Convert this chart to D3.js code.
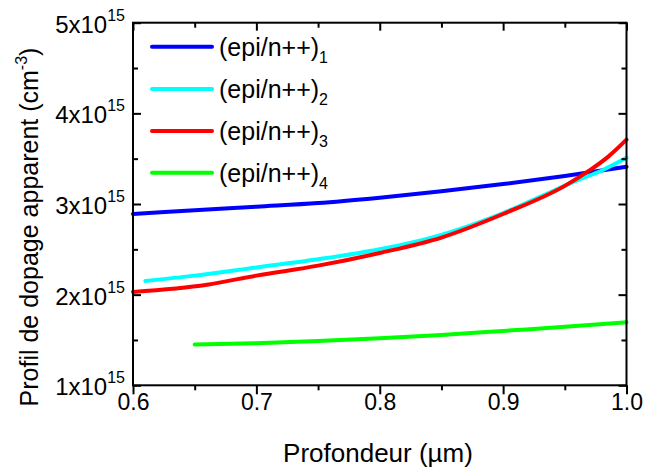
<!DOCTYPE html>
<html><head><meta charset="utf-8">
<script src="https://cdn.jsdelivr.net/npm/d3@7"></script>
<style>
body{margin:0;background:#fff}
svg{display:block}
text{font-family:"Liberation Sans",Arial,Helvetica,sans-serif;fill:#000}
</style>
</head><body>
<svg id="c" width="646" height="472"></svg>
<script>
// ---- data ----
const xTicks = [0.6, 0.7, 0.8, 0.9, 1.0];
const xMinor = [0.65, 0.75, 0.85, 0.95];
const yTicks = [1, 2, 3, 4, 5];          // mantissa of x10^15
const yMinor = [1.5, 2.5, 3.5, 4.5];
const yExp = "15";
const seriesBase = "(epi/n++)";
const seriesSubs = ["1", "2", "3", "4"];
const colors = ["#0000ff", "#00ffff", "#ff0000", "#00ff00"];

const depth1 = [0.6, 0.65, 0.7, 0.75, 0.8, 0.85, 0.9, 0.95, 1.0];
const dop1   = [2.89, 2.93, 2.97, 3.01, 3.07, 3.14, 3.22, 3.31, 3.41];
const depth2 = [0.61, 0.65, 0.7, 0.75, 0.8, 0.85, 0.9, 0.93, 0.96, 0.98, 1.0];
const dop2   = [2.15, 2.21, 2.30, 2.39, 2.50, 2.66, 2.90, 3.08, 3.26, 3.37, 3.51];
const depth3 = [0.6, 0.66, 0.7, 0.75, 0.8, 0.85, 0.9, 0.95, 0.97, 0.985, 1.0];
const dop3   = [2.03, 2.11, 2.21, 2.32, 2.46, 2.63, 2.89, 3.20, 3.37, 3.52, 3.71];
const depth4 = [0.65, 0.7, 0.75, 0.8, 0.85, 0.9, 0.95, 1.0];
const dop4   = [1.45, 1.465, 1.49, 1.52, 1.555, 1.60, 1.645, 1.695];

const series = [
  {x: depth1, y: dop1},
  {x: depth2, y: dop2},
  {x: depth3, y: dop3},
  {x: depth4, y: dop4}
];

// ---- layout ----
const L = 133, R = 626.5, T = 22.7, B = 385.3;
const svg = d3.select("#c");
const x = d3.scaleLinear().domain([0.6, 1.0]).range([L, R]);
const y = d3.scaleLinear().domain([1, 5]).range([B, T]);

// lines
const line = d3.line().x(d => x(d[0])).y(d => y(d[1])).curve(d3.curveMonotoneX);
const gLines = svg.append("g");
series.forEach((s, i) => {
  gLines.append("path")
    .attr("d", line(s.x.map((v, j) => [v, s.y[j]])))
    .attr("fill", "none")
    .attr("stroke", colors[i])
    .attr("stroke-width", 4)
    .attr("stroke-linecap", "round")
    .attr("stroke-linejoin", "round");
});

// axes
function styleAxis(g) {
  g.select(".domain").remove();
  g.selectAll(".tick line").attr("stroke", "#000").attr("stroke-width", 2);
}
// bottom (outward)
svg.append("g").attr("transform", `translate(0,${B})`)
  .call(d3.axisBottom(x).tickValues(xTicks).tickSize(9).tickFormat(d3.format(".1f")))
  .call(styleAxis)
  .call(g => g.selectAll(".tick text")
        .attr("font-size", 23).attr("font-family", null).attr("dy", null)
        .attr("fill", "#000").attr("y", 25));
svg.append("g").attr("transform", `translate(0,${B})`)
  .call(d3.axisBottom(x).tickValues(xMinor).tickSize(5).tickFormat(""))
  .call(styleAxis);
// top (inward)
svg.append("g").attr("transform", `translate(0,${T})`)
  .call(d3.axisTop(x).tickValues(xTicks).tickSize(-8).tickFormat(""))
  .call(styleAxis);
svg.append("g").attr("transform", `translate(0,${T})`)
  .call(d3.axisTop(x).tickValues(xMinor).tickSize(-5).tickFormat(""))
  .call(styleAxis);
// left (inward)
svg.append("g").attr("transform", `translate(${L},0)`)
  .call(d3.axisLeft(y).tickValues(yTicks).tickSize(-8).tickFormat(""))
  .call(styleAxis);
svg.append("g").attr("transform", `translate(${L},0)`)
  .call(d3.axisLeft(y).tickValues(yMinor).tickSize(-5).tickFormat(""))
  .call(styleAxis);
// right (inward)
svg.append("g").attr("transform", `translate(${R},0)`)
  .call(d3.axisRight(y).tickValues(yTicks).tickSize(-8).tickFormat(""))
  .call(styleAxis);
svg.append("g").attr("transform", `translate(${R},0)`)
  .call(d3.axisRight(y).tickValues(yMinor).tickSize(-5).tickFormat(""))
  .call(styleAxis);

// y tick labels with superscript
yTicks.forEach(v => {
  const t = svg.append("text")
    .attr("x", 125).attr("y", y(v) + 10)
    .attr("text-anchor", "end").attr("font-size", 24);
  t.append("tspan").text(v + "x10");
  t.append("tspan").attr("font-size", 16).attr("dy", -12).text(yExp);
});

// frame
svg.append("rect").attr("x", L).attr("y", T).attr("width", R - L).attr("height", B - T)
  .attr("fill", "none").attr("stroke", "#000").attr("stroke-width", 2);

// axis titles
svg.append("text").attr("x", 378).attr("y", 462).attr("text-anchor", "middle")
  .attr("font-size", 26).text("Profondeur (\u00b5m)");
const yt = svg.append("text").attr("transform", "translate(38,227) rotate(-90)")
  .attr("text-anchor", "middle").attr("font-size", 25);
yt.append("tspan").text("Profil de dopage apparent (cm");
yt.append("tspan").attr("font-size", 16).attr("dy", -11).text("-3");
yt.append("tspan").attr("dy", 11).text(")");

// legend
const legY = [46.7, 89, 131, 172.7];
seriesSubs.forEach((s, i) => {
  svg.append("line").attr("x1", 152).attr("x2", 212).attr("y1", legY[i]).attr("y2", legY[i])
    .attr("stroke", colors[i]).attr("stroke-width", 4).attr("stroke-linecap", "round");
  const t = svg.append("text").attr("x", 219).attr("y", legY[i] + 9).attr("font-size", 25);
  t.append("tspan").text(seriesBase);
  t.append("tspan").attr("font-size", 16).attr("dy", 7).text(s);
});
</script>
</body></html>
